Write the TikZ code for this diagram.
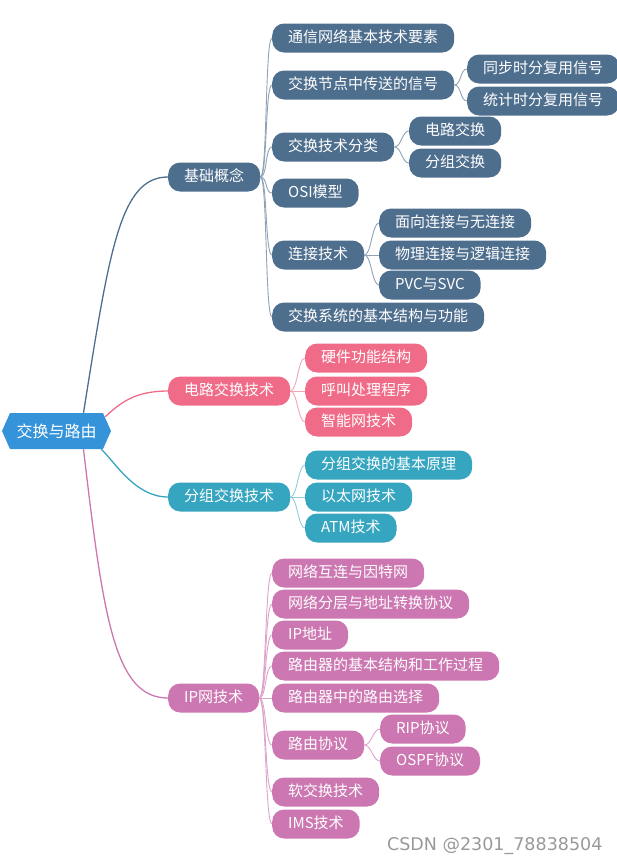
\documentclass[tikz,border=0pt]{standalone}
\usepackage{fontspec}
\newfontfamily\cjk{Noto Sans CJK SC}
\newfontfamily\wmfont{DejaVu Sans}
\usetikzlibrary{calc}
\definecolor{cR}{HTML}{3593DA}
\definecolor{cA}{HTML}{4E6E8E}
\definecolor{cB}{HTML}{F06B87}
\definecolor{cC}{HTML}{35A5C0}
\definecolor{cD}{HTML}{CC77B1}
\definecolor{lA}{HTML}{8FA2B6}
\definecolor{lB}{HTML}{F4A3B4}
\definecolor{lC}{HTML}{8ECDDB}
\definecolor{lD}{HTML}{DDA3CB}
\newcommand\sublink[3]{\draw[sub,#3] (#1.east) .. controls +(7,0) and +(-7,0) .. (#2.west);}
\begin{document}
\begin{tikzpicture}[x=1pt,y=-1pt,
  box/.style={rounded corners=12pt, minimum height=29pt, inner xsep=16pt, inner ysep=0pt,
    text=white, font=\cjk\fontsize{15}{18}\selectfont, text height=11.5pt, text depth=2.5pt, anchor=west},
  bA/.style={box, fill=cA}, bB/.style={box, fill=cB}, bC/.style={box, fill=cC}, bD/.style={box, fill=cD},
  rootbox/.style={minimum width=109pt, minimum height=36pt, inner sep=0pt, fill=white,
    text=white, font=\cjk\fontsize{16}{19}\selectfont,
    path picture={\fill[cR] (path picture bounding box.west) -- ([xshift=8pt]path picture bounding box.north west)
      -- ([xshift=-8pt]path picture bounding box.north east) -- (path picture bounding box.east)
      -- ([xshift=-8pt]path picture bounding box.south east) -- ([xshift=8pt]path picture bounding box.south west) -- cycle;}},
  main/.style={line width=1.3pt},
  sub/.style={line width=0.9pt}]
\useasboundingbox (0,0) rectangle (616,865);

% root
\node[rootbox] (root) at (56.5,431) {交换与路由};

% level 1
\node[bA] (jc) at (168,177) {基础概念};
\node[bB] (dl) at (168,391) {电路交换技术};
\node[bC] (fz) at (168,497) {分组交换技术};
\node[bD] (ip) at (168,698) {IP网技术};

% children of 基础概念
\node[bA] (a1) at (272,38) {通信网络基本技术要素};
\node[bA] (a2) at (272,85) {交换节点中传送的信号};
\node[bA] (a21) at (467,69) {同步时分复用信号};
\node[bA] (a22) at (467,101) {统计时分复用信号};
\node[bA] (a3) at (272,147) {交换技术分类};
\node[bA] (a31) at (409,131) {电路交换};
\node[bA] (a32) at (409,163) {分组交换};
\node[bA] (a4) at (272,193) {OSI模型};
\node[bA] (a5) at (272,255) {连接技术};
\node[bA] (a51) at (379,223) {面向连接与无连接};
\node[bA] (a52) at (379,255) {物理连接与逻辑连接};
\node[bA] (a53) at (379,285) {PVC与SVC};
\node[bA] (a6) at (272,317) {交换系统的基本结构与功能};

% children of 电路交换技术
\node[bB] (b1) at (305,358) {硬件功能结构};
\node[bB] (b2) at (305,391) {呼叫处理程序};
\node[bB] (b3) at (305,422) {智能网技术};

% children of 分组交换技术
\node[bC] (c1) at (305,465) {分组交换的基本原理};
\node[bC] (c2) at (305,497) {以太网技术};
\node[bC] (c3) at (305,528) {ATM技术};

% children of IP网技术
\node[bD] (d1) at (272,573) {网络互连与因特网};
\node[bD] (d2) at (272,604) {网络分层与地址转换协议};
\node[bD] (d3) at (272,635) {IP地址};
\node[bD] (d4) at (272,666) {路由器的基本结构和工作过程};
\node[bD] (d5) at (272,698) {路由器中的路由选择};
\node[bD] (d6) at (272,745) {路由协议};
\node[bD] (d61) at (380,729) {RIP协议};
\node[bD] (d62) at (380,761) {OSPF协议};
\node[bD] (d7) at (272,792) {软交换技术};
\node[bD] (d8) at (272,824) {IMS技术};

% root connectors
\coordinate (r1) at ($(root.north)+(27,0)$);
\coordinate (r2) at ($(root.north east)+(-6,4)$);
\coordinate (r3) at ($(root.south east)+(-10,0)$);
\coordinate (r4) at ($(root.south)+(27,0)$);
\draw[main,cA] (r1) .. controls +(26,-163) and +(-48,0) .. (jc.west);
\draw[main,cB] (r2) .. controls +(15,-14) and +(-33,0) .. (dl.west);
\draw[main,cC] (r3) .. controls +(14,13) and +(-33,0) .. (fz.west);
\draw[main,cD] (r4) .. controls +(20,171) and +(-53,0) .. (ip.west);

% sub connectors
\foreach \c in {a1,a2,a3,a4,a5,a6} {\sublink{jc}{\c}{lA}}
\sublink{a2}{a21}{lA}\sublink{a2}{a22}{lA}
\sublink{a3}{a31}{lA}\sublink{a3}{a32}{lA}
\sublink{a5}{a51}{lA}\sublink{a5}{a52}{lA}\sublink{a5}{a53}{lA}
\foreach \c in {b1,b2,b3} {\sublink{dl}{\c}{lB}}
\foreach \c in {c1,c2,c3} {\sublink{fz}{\c}{lC}}
\foreach \c in {d1,d2,d3,d4,d5,d6,d7,d8} {\sublink{ip}{\c}{lD}}
\sublink{d6}{d61}{lD}\sublink{d6}{d62}{lD}

% watermark
\node[anchor=east, text=black!40, font=\wmfont\fontsize{17.5}{20}\selectfont] (wm) at (606,846) {CSDN @2301\_78838504};
\end{tikzpicture}
\end{document}
